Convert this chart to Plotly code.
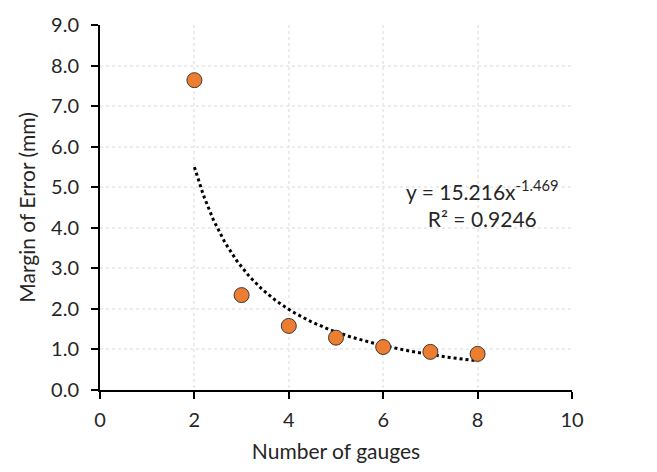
import numpy as np
import plotly.graph_objects as go

gauges = [2, 3, 4, 5, 6, 7, 8]
margin_err = [7.64, 2.34, 1.58, 1.29, 1.06, 0.94, 0.89]
coef_a = 15.216
coef_b = -1.469
r2 = 0.9246

xt = np.linspace(min(gauges), max(gauges), 200)
yt = coef_a * xt ** coef_b

font = "Lato, 'Open Sans', sans-serif"
tc = "#262626"

fig = go.Figure()
fig.add_trace(go.Scatter(x=xt, y=yt, mode="lines",
                         line=dict(color="black", width=3, dash="dot"),
                         hoverinfo="skip", showlegend=False))
fig.add_trace(go.Scatter(x=gauges, y=margin_err, mode="markers",
                         marker=dict(size=15, color="#ED7D31",
                                     line=dict(color="#3a3a3a", width=1)),
                         showlegend=False))

fig.add_annotation(x=8.1, y=4.6, xref="x", yref="y",
                   text=f"y = {coef_a}x<sup>{coef_b}</sup><br>R² = {r2}",
                   showarrow=False, align="center",
                   font=dict(family=font, size=21, color=tc))

axis_common = dict(showline=True, linecolor="black", linewidth=2,
                   ticks="outside", tickcolor="black", ticklen=7, tickwidth=2,
                   showgrid=True, gridcolor="#ececec", griddash="dot", gridwidth=2,
                   zeroline=False, mirror=False, ticklabeloverflow="allow",
                   tickfont=dict(family=font, size=20, color=tc))

fig.update_xaxes(range=[0, 10], dtick=2, tick0=0, ticklabelstandoff=4,
                 title=dict(text="Number of gauges", font=dict(family=font, size=21, color=tc), standoff=14),
                 **axis_common)
fig.update_yaxes(range=[0, 9], dtick=1, tick0=0, tickformat=".1f", ticklabelstandoff=8,
                 title=dict(text="Margin of Error (mm)", font=dict(family=font, size=21, color=tc), standoff=10),
                 **axis_common)

fig.update_layout(width=657, height=472, plot_bgcolor="white", paper_bgcolor="white",
                  margin=dict(l=100, r=85, t=16, b=78))

fig.write_html("out.html")
